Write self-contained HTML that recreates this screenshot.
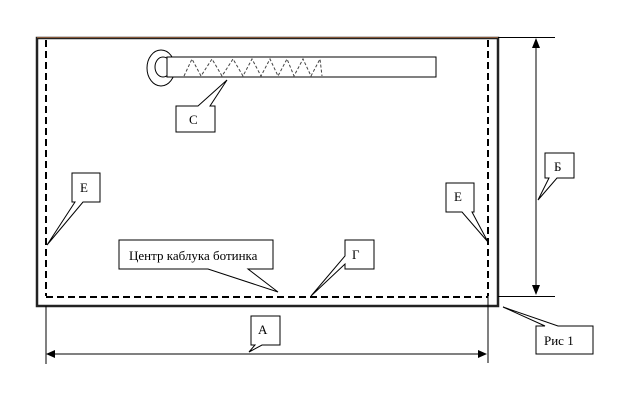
<!DOCTYPE html>
<html><head><meta charset="utf-8"><style>
html,body{margin:0;padding:0;background:#fff;}
svg{display:block;}
text{font-family:"Liberation Serif","DejaVu Serif",serif;font-size:13px;fill:#000;}
</style></head><body>
<svg width="617" height="414" viewBox="0 0 617 414" xmlns="http://www.w3.org/2000/svg">
<rect x="37" y="38" width="461" height="268" fill="#fff" stroke="#222" stroke-width="2.5"/>
<line x1="37" y1="37.5" x2="498" y2="37.5" stroke="#8a5a3a" stroke-width="1"/>
<g stroke="#000" stroke-width="2" stroke-dasharray="7,4" fill="none">
<line x1="46" y1="40" x2="46" y2="296"/>
<line x1="488" y1="40" x2="488" y2="296"/>
<line x1="46" y1="297" x2="488" y2="297"/>
</g>
<ellipse cx="161" cy="68" rx="14" ry="18" fill="#fff" stroke="#000" stroke-width="1"/>
<ellipse cx="163" cy="67" rx="8" ry="10" fill="#fff" stroke="#000" stroke-width="1"/>
<rect x="167" y="57" width="269" height="20" fill="#fff" stroke="#000" stroke-width="1"/>
<polyline points="184,76 192,59 201,76 212,59 222,76 233,59 243,76 252,59 261,76 270,59 278,76 287,59 294,76 303,59 311,76 320,59 322,76" fill="none" stroke="#444" stroke-width="1" stroke-dasharray="3,2"/>
<g stroke="#000" stroke-width="1" fill="none">
<line x1="498" y1="37.5" x2="555" y2="37.5"/>
<line x1="498" y1="296.5" x2="555" y2="296.5"/>
<line x1="536" y1="40" x2="536" y2="294"/>
<line x1="46" y1="306" x2="46" y2="364"/>
<line x1="488" y1="296" x2="488" y2="363"/>
<line x1="48" y1="354" x2="486" y2="354"/>
</g>
<polygon points="536,38 532,48 540,48" fill="#000"/>
<polygon points="536,295 532,285 540,285" fill="#000"/>
<polygon points="46,354 55,350 55,358" fill="#000"/>
<polygon points="487,354 478,350 478,358" fill="#000"/>
<g fill="#fff" stroke="#000" stroke-width="1">
<polygon points="176,106 198,106 227,80 210,106 215,106 215,132 176,132"/>
<polygon points="72,173 100,173 100,202 83,202 47,245 75,202 72,202"/>
<polygon points="119,240 273,240 273,269 248,269 278,292 208,269 119,269"/>
<polygon points="345,240 374,240 374,269 345,269 345,264 311,296 345,256"/>
<polygon points="251,316 280,316 280,345 262,345 249,352 255,345 251,345"/>
<polygon points="446,183 474,183 474,212 472,212 488,242 462,212 446,212"/>
<polygon points="545,153 574,153 574,178 557,178 538,200 549,178 545,178"/>
<polygon points="536,326 545,326 503,307 558,326 593,326 593,354 536,354"/>
</g>
<text x="189" y="124">С</text>
<text x="80" y="192">Е</text>
<text x="129" y="260">Центр каблука ботинка</text>
<text x="352" y="259">Г</text>
<text x="258" y="334">А</text>
<text x="454" y="201">Е</text>
<text x="554" y="171">Б</text>
<text x="544" y="345">Рис 1</text>
</svg>
</body></html>
